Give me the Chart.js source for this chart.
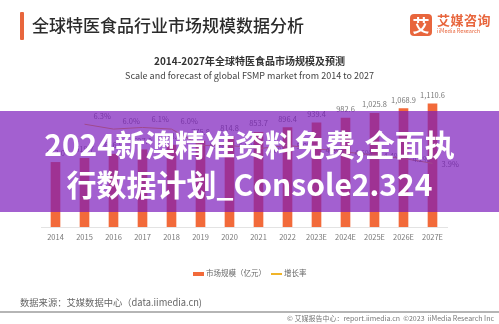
<!DOCTYPE html>
<html>
<head>
<meta charset="utf-8">
<script src="https://cdn.jsdelivr.net/npm/chart.js@4"></script>
<style>
  html, body { margin: 0; padding: 0; background: #fff; }
  body { width: 499px; height: 324px; position: relative; overflow: hidden;
         font-family: "Noto Sans CJK SC", "Noto Sans", sans-serif; }
  .abs { position: absolute; white-space: nowrap; }
  #chartBox { position: absolute; left: 0; top: 0; width: 499px; height: 324px; }
  .accent { left: 20px; top: 12px; width: 4px; height: 28px; background: #e8663d; border-radius: 1px; }
  .title { left: 32px; top: 11px; font-size: 17px; color: #2b2b2b; font-weight: 500; line-height: 28px; }
  .logoMark { left: 410px; top: 14px; width: 22px; height: 22px; background: #e8663d; border-radius: 4px;
              color: #fff; font-size: 17px; font-weight: 700; line-height: 22px; text-align: center; }
  .logoName { left: 437px; top: 12px; font-size: 13px; font-weight: 700; color: #e8663d; line-height: 16px; letter-spacing: 0.5px; }
  .logoSub { left: 437px; top: 28px; font-size: 5.5px; color: #e8663d; line-height: 7px; }
  .ctitle { left: 0; width: 499px; top: 54px; text-align: center; font-size: 10px; font-weight: 700; color: #333; line-height: 14px; }
  .csub { left: 0; width: 499px; top: 70px; text-align: center; font-size: 9px; color: #444; line-height: 12px; }
  .band { left: 0; top: 111px; width: 499px; height: 101px; background: rgba(122, 25, 187, 0.69); z-index: 5; }
  .bandText { left: 0; width: 499px; text-align: center; color: #fff; font-size: 30px; font-weight: 700;
              line-height: 36px; z-index: 6; }
  .legend { top: 268px; font-size: 7.5px; color: #666; line-height: 10px; }
  .source { left: 20px; top: 296px; font-size: 9.3px; color: #666; line-height: 13px; }
  .rule { left: 0; top: 311px; width: 499px; height: 2px; background: #b5b5b5; }
  .foot { right: 5px; top: 313px; font-size: 7px; color: #777; line-height: 10px; }
</style>
</head>
<body>
<div id="chartBox"><canvas id="c" width="499" height="324"></canvas></div>

<div class="abs accent"></div>
<div class="abs title">全球特医食品行业市场规模数据分析</div>
<div class="abs logoMark">艾</div>
<div class="abs logoName">艾媒咨询</div>
<div class="abs logoSub">iiMedia Research</div>

<div class="abs ctitle">2014-2027年全球特医食品市场规模及预测</div>
<div class="abs csub">Scale and forecast of global FSMP market from 2014 to 2027</div>

<div class="abs band"></div>
<div class="abs bandText" style="top:125px;">2024新澳精准资料免费,全面执</div>
<div class="abs bandText" style="top:165px;">行数据计划_Console2.324</div>

<div class="abs legend" style="left:193px;"><span style="display:inline-block;width:11px;height:4px;background:#f26a3a;vertical-align:middle;margin-right:2px;"></span>市场规模（亿元）</div>
<div class="abs legend" style="left:271px;"><span style="display:inline-block;width:11px;height:1.5px;background:#f0b429;vertical-align:middle;margin-right:2px;"></span>增长率</div>

<div class="abs source">数据来源：艾媒数据中心（data.iimedia.cn)</div>
<div class="abs rule"></div>
<div class="abs foot">© 艾媒报告中心：report.iimedia.cn &nbsp;©2023 &nbsp;iiMedia Research Inc</div>

<script>
// Years shown on the category axis
const years = ['2014', '2015', '2016', '2017', '2018', '2019', '2020',
               '2021', '2022', '2023E', '2024E', '2025E', '2026E', '2027E'];
// Global FSMP market size (100 million yuan)
const marketSize = [583.0, 619.7, 656.9, 697.0, 738.8, 775.8, 814.8,
                    853.7, 896.4, 939.4, 982.6, 1025.8, 1068.9, 1110.6];
// Year-on-year growth rate (%)
const growthRate = [null, 6.3, 6.0, 6.1, 6.0, 5.0, 5.0,
                    4.8, 5.0, 4.8, 4.6, 4.4, 4.2, 3.9];

const BAR_COLOR = '#f26a3a';
const LINE_COLOR = '#f0b429';
const LABEL_COLOR = '#777';

// Value labels above the bars and beside the growth points
const valueLabels = {
  id: 'valueLabels',
  afterDatasetsDraw(chart) {
    const ctx = chart.ctx;
    ctx.save();
    ctx.font = '7.5px "Noto Sans CJK SC", sans-serif';
    ctx.fillStyle = LABEL_COLOR;
    const bars = chart.getDatasetMeta(0).data;
    ctx.textAlign = 'center';
    ctx.textBaseline = 'bottom';
    bars.forEach((el, i) => {
      const v = marketSize[i];
      const txt = v.toLocaleString('en-US', { minimumFractionDigits: 1, maximumFractionDigits: 1 });
      ctx.fillText(txt, el.x, el.y - 5);
    });
    const pts = chart.getDatasetMeta(1).data;
    ctx.textAlign = 'left';
    ctx.textBaseline = 'middle';
    pts.forEach((el, i) => {
      const v = growthRate[i];
      if (v === null) return;
      const dy = i < 5 ? -8 : 1;
      ctx.fillText(v.toFixed(1) + '%', el.x + 9, el.y + dy);
    });
    ctx.restore();
  }
};

new Chart(document.getElementById('c'), {
  data: {
    labels: years,
    datasets: [
      {
        type: 'bar',
        label: '市场规模（亿元）',
        data: marketSize,
        backgroundColor: BAR_COLOR,
        barThickness: 9,
        yAxisID: 'y',
        order: 2
      },
      {
        type: 'line',
        label: '增长率',
        data: growthRate,
        borderColor: LINE_COLOR,
        backgroundColor: LINE_COLOR,
        borderWidth: 1,
        pointRadius: 0,
        tension: 0,
        spanGaps: false,
        yAxisID: 'y1',
        order: 1
      }
    ]
  },
  options: {
    responsive: false,
    animation: false,
    devicePixelRatio: 1,
    layout: { padding: { left: 41, right: 52, top: 94, bottom: 76 } },
    plugins: {
      legend: { display: false },
      tooltip: { enabled: false },
      title: { display: false }
    },
    scales: {
      x: {
        grid: { display: false, drawTicks: false },
        border: { display: true, color: '#e3e3e3', width: 1 },
        ticks: {
          padding: 6,
          color: '#777',
          font: { size: 7.5, family: '"Noto Sans CJK SC", sans-serif' },
          maxRotation: 0,
          autoSkip: false
        }
      },
      y: {
        display: false,
        min: 0,
        max: 1200
      },
      y1: {
        display: false,
        position: 'right',
        min: 0,
        max: 8.15
      }
    }
  },
  plugins: [valueLabels]
});
</script>
</body>
</html>
